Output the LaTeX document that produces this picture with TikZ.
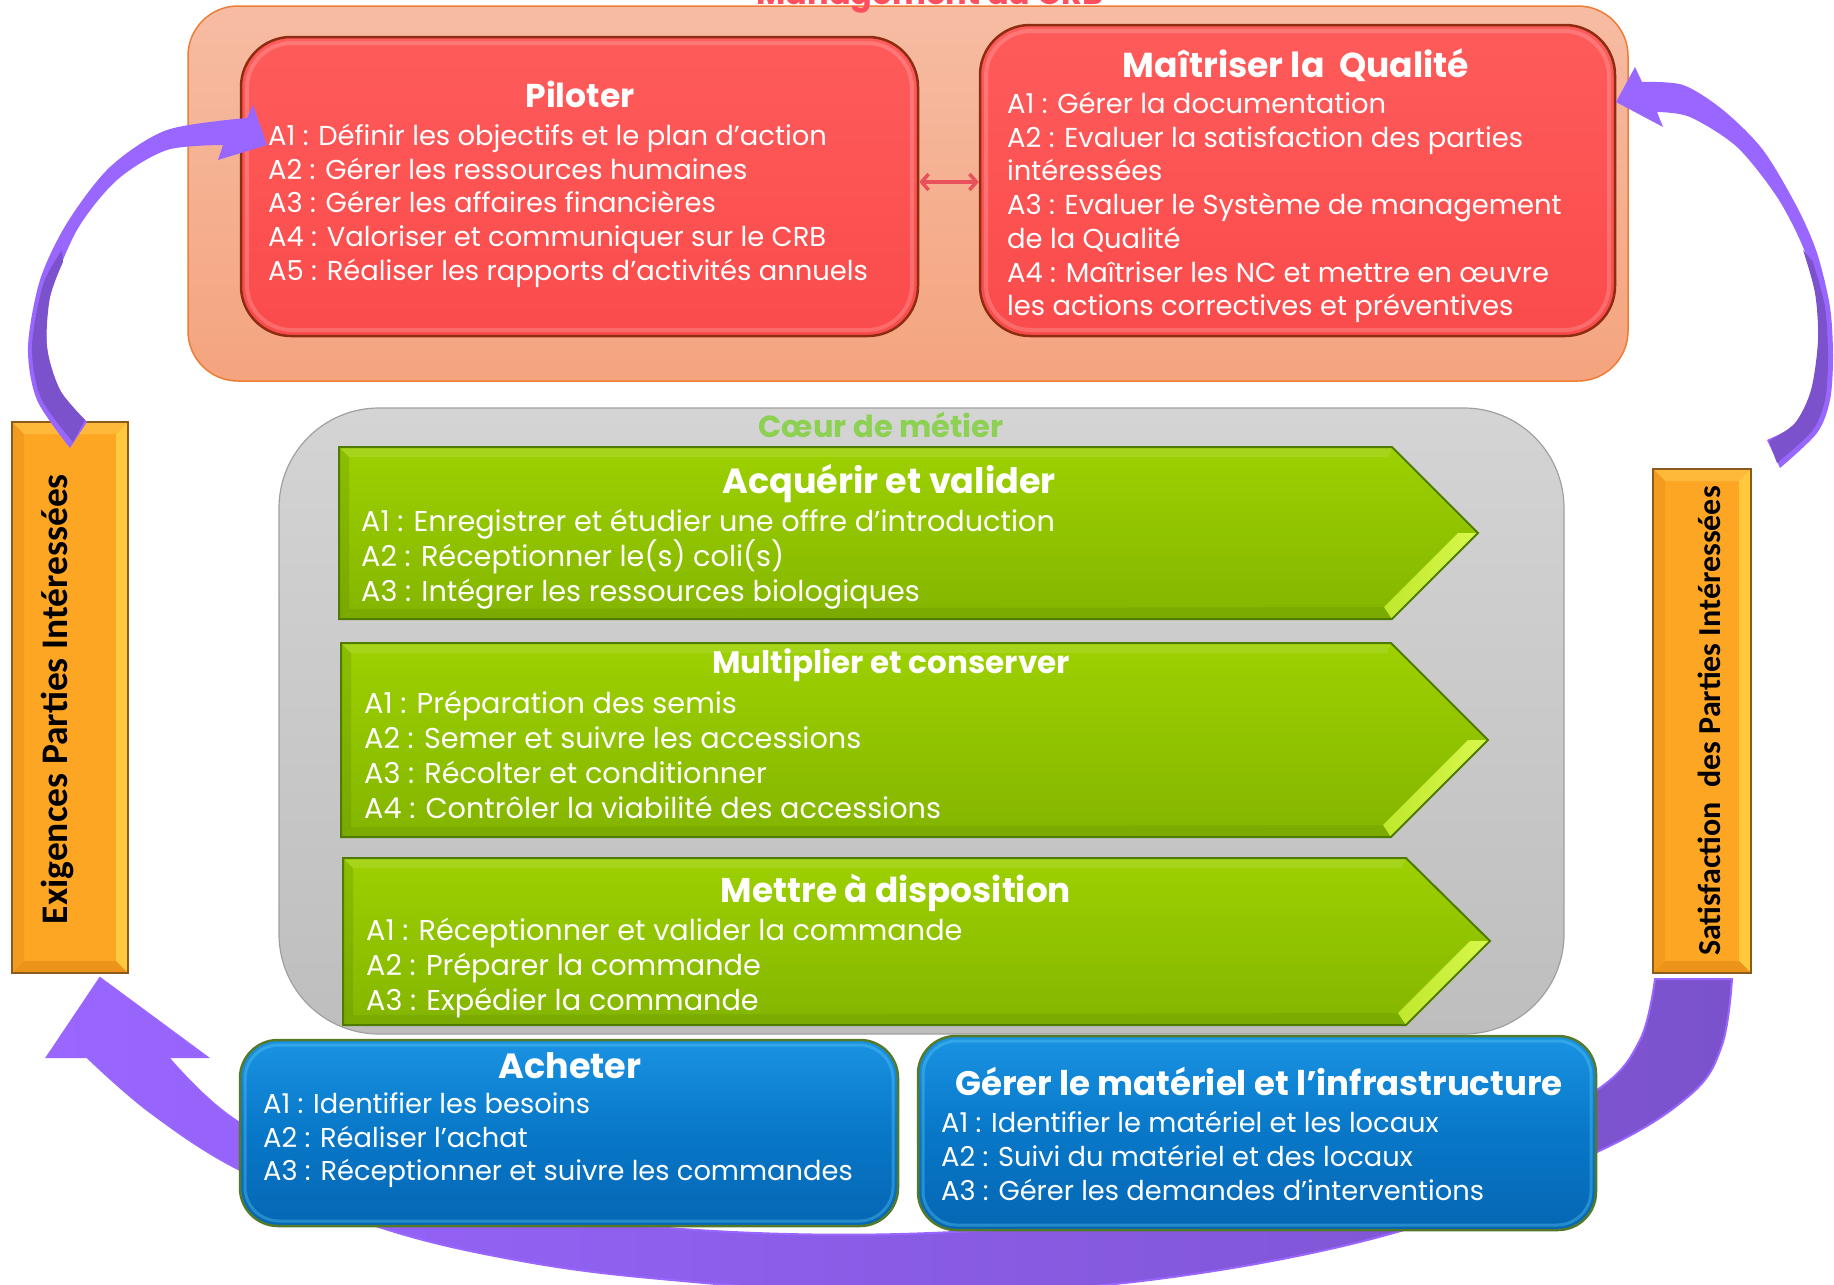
\documentclass[tikz,border=0pt]{standalone}
\usepackage{fontspec}
\setmainfont{Poppins}
\newfontfamily\boxfont{Carlito}
\usetikzlibrary{arrows.meta}
\definecolor{peachT}{HTML}{F6BCA3}
\definecolor{peachB}{HTML}{F4A47E}
\definecolor{peachD}{HTML}{EE7D35}
\definecolor{redT}{HTML}{FF5B5B}
\definecolor{redB}{HTML}{FA4B4B}
\definecolor{redD}{HTML}{8E2C12}
\definecolor{grayT}{HTML}{D4D4D4}
\definecolor{grayB}{HTML}{BEBEBE}
\definecolor{grayD}{HTML}{A0A0A0}
\definecolor{greenT}{HTML}{9DD100}
\definecolor{greenB}{HTML}{84B500}
\definecolor{greenD}{HTML}{4F7C00}
\definecolor{greenH}{HTML}{E2FF5A}
\definecolor{blueT}{HTML}{1A93E2}
\definecolor{blueM}{HTML}{0877C8}
\definecolor{blueB}{HTML}{0567B4}
\definecolor{blueD}{HTML}{55792A}
\definecolor{orF}{HTML}{FDA624}
\definecolor{orL}{HTML}{FFB93A}
\definecolor{orY}{HTML}{FFC93D}
\definecolor{orDk}{HTML}{EC931A}
\definecolor{orD}{HTML}{8A5A1E}
\definecolor{purL}{HTML}{9966FF}
\definecolor{purD}{HTML}{7B52CC}
\definecolor{titleR}{HTML}{FF4F5E}
\definecolor{coeurG}{HTML}{8CD152}
\definecolor{dblR}{HTML}{E8505B}
\tikzset{
  redbox/.style={draw=redD, line width=2.5pt, rounded corners=50pt, top color=redT, bottom color=redB, inner sep=0pt},
  bluebox/.style={draw=blueD, line width=2.5pt, rounded corners=38pt, top color=blueT, bottom color=blueB, middle color=blueM, inner sep=0pt},
  redtxt/.style={text=white, anchor=west, inner sep=0pt, font=\fontsize{27.4}{30}\selectfont, text height=19pt, text depth=0pt},
  greentxt/.style={text=white, anchor=west, inner sep=0pt, font=\fontsize{28.7}{32}\selectfont, text height=20pt, text depth=0pt},
  bluetxt/.style={text=white, anchor=west, inner sep=0pt, font=\fontsize{27.3}{32}\selectfont, text height=19pt, text depth=0pt},
  ttl/.style={text=white, inner sep=0pt, font=\bfseries\fontsize{#1}{36}\selectfont, text height=0.7*#1 pt, text depth=0pt},
  ttl/.default=33,
  sidetxt/.style={text=black, inner sep=0pt, rotate=90, text height=24pt, text depth=0pt},
  purarrow/.style={fill=purL},
  purdark/.style={fill=purD}
}
\newcommand\garrow[6]{%
  \shade[top color=greenT, bottom color=greenB] (#1,#2) -- (#4,#2) -- (#5,#6) -- (#4,#3) -- (#1,#3) -- cycle;
  \fill[greenD, opacity=0.22] (#1,#2) -- (#1+10,#2+10) -- (#1+10,#3-10) -- (#1,#3) -- cycle;
  \fill[white, opacity=0.10] (#1,#2) -- (#4,#2) -- (#4-4,#2+10) -- (#1+10,#2+10) -- cycle;
  \fill[greenD, opacity=0.18] (#1,#3) -- (#4,#3) -- (#4-8,#3-12) -- (#1+10,#3-10) -- cycle;
  \shade[left color=greenH!50!greenT, right color=greenH!85!greenT] (#5,#6) -- (#4,#3) -- (#4-8,#3-12) -- (#5-20,#6) -- cycle;
  \draw[greenD, line width=2pt, line join=miter] (#1,#2) -- (#4,#2) -- (#5,#6) -- (#4,#3) -- (#1,#3) -- cycle;
}
\newcommand\obox[4]{%
  \fill[orF] (#1,#2) rectangle (#3,#4);
  \fill[orL] (#1,#2) -- (#3,#2) -- (#3-12,#2+12) -- (#1+12,#2+12) -- cycle;
  \fill[orDk!60!orF] (#1,#2) -- (#1+12,#2+12) -- (#1+12,#4-12) -- (#1,#4) -- cycle;
  \fill[orY] (#3,#2) -- (#3,#4) -- (#3-12,#4-12) -- (#3-12,#2+12) -- cycle;
  \fill[orDk] (#1,#4) -- (#3,#4) -- (#3-12,#4-12) -- (#1+12,#4-12) -- cycle;
  \draw[orD, line width=2pt] (#1,#2) rectangle (#3,#4);
}
\begin{document}
\begin{tikzpicture}[x=1pt,y=-1pt]
\useasboundingbox (0,0) rectangle (1834,1285);

% management frame
\node[draw=peachD, line width=1.5pt, rounded corners=50pt, top color=peachT, bottom color=peachB, minimum width=1440pt, minimum height=375pt, inner sep=0pt] (mgmt) at (908,193.5) {};
\node[font=\bfseries\fontsize{32}{36}\selectfont, text=titleR, anchor=base, inner sep=0pt] (mtitle) at (930,4) {Management du CRB};

% red boxes
\node[redbox, minimum width=677pt, minimum height=299pt] (pil) at (579.5,186.5) {};
\node[redbox, minimum width=635pt, minimum height=311pt] (mai) at (1297.5,180.5) {};
\draw[white, opacity=0.18, line width=4pt, rounded corners=45pt] (247,43) rectangle (912,330);
\draw[white, opacity=0.18, line width=4pt, rounded corners=45pt] (986,31) rectangle (1609,330);
\draw[dblR, line width=3.5pt, {Straight Barb[length=7pt,width=16pt]}-{Straight Barb[length=7pt,width=16pt]}] ([yshift=4.5pt]pil.east) -- ([yshift=4.5pt]pil.east -| mai.west);

\node[ttl=33] (piltitle) at (580,96) {Piloter};
\foreach \t [count=\i] in {A1 : Définir les objectifs et le plan d’action, A2 : Gérer les ressources humaines, A3 : Gérer les affaires financières, A4 : Valoriser et communiquer sur le CRB, A5 : Réaliser les rapports d’activités annuels}
  \node[redtxt] (pil-\i) at (268,{136+33.7*(\i-1)}) {\t};

\node[ttl=34.6] (maititle) at (1296,65) {Maîtriser la~ Qualité};
\foreach \t [count=\i] in {A1 : Gérer la documentation, A2 : Evaluer la satisfaction des parties, intéressées, A3 : Evaluer le Système de management, de la Qualité, A4 : Maîtriser les NC et mettre en œuvre, les actions correctives et préventives}
  \node[redtxt] (mai-\i) at (1007,{104+33.7*(\i-1)}) {\t};

% core
\node[draw=grayD, line width=1.2pt, rounded corners=100pt, top color=grayT, bottom color=grayB, minimum width=1285pt, minimum height=626pt, inner sep=0pt] (core) at (921.5,721) {};
\node[font=\bfseries\fontsize{30.5}{34}\selectfont, text=coeurG, text height=21pt, text depth=0pt, inner sep=0pt] (coeur) at (881,427) {Cœur de métier};

\garrow{339}{447}{619}{1392}{1478}{533}
\garrow{341}{643}{837}{1391}{1488}{740}
\garrow{343}{858}{1025}{1406}{1490}{941}

\node[ttl=35] (acqtitle) at (889,481) {Acquérir et valider};
\foreach \t [count=\i] in {A1 : Enregistrer et étudier une offre d’introduction, A2 : Réceptionner le(s) coli(s), A3 : Intégrer les ressources biologiques}
  \node[greentxt] (acq-\i) at (361,{521+35.3*(\i-1)}) {\t};

\node[ttl=31] (multitle) at (891,663) {Multiplier et conserver};
\foreach \t [count=\i] in {A1 : Préparation des semis, A2 : Semer et suivre les accessions, A3 : Récolter et conditionner, A4 : Contrôler la viabilité des accessions}
  \node[greentxt] (mul-\i) at (364,{703+35.2*(\i-1)}) {\t};

\node[ttl=34.3] (mettitle) at (896,890) {Mettre à disposition};
\foreach \t [count=\i] in {A1 : Réceptionner et valider la commande, A2 : Préparer la commande, A3 : Expédier la commande}
  \node[greentxt] (met-\i) at (366,{930+35.2*(\i-1)}) {\t};

% bottom purple arrow
\path[left color=purL, middle color=purL, right color=purD, draw=purL, line width=2pt]
  (1655,979) -- (1732,979)
  -- plot[smooth, tension=0.6] coordinates {(1732,979) (1722,1045) (1690,1095) (1597,1152) (1397,1232) (1150,1280) (900,1294) (650,1278) (500,1257) (373,1225) (240,1170) (150,1112) (87,1057)}
  -- (47,1057) -- (100,978) -- (207,1057) -- (168,1057)
  -- plot[smooth, tension=0.6] coordinates {(168,1057) (240,1123) (373,1180) (600,1222) (900,1234) (1250,1205) (1480,1150) (1597,1090) (1640,1040) (1655,979)}
  -- cycle;

% blue boxes
\node[bluebox, minimum width=658pt, minimum height=186pt] (ach) at (569,1133) {};
\node[bluebox, minimum width=678pt, minimum height=194pt] (ger) at (1257,1133) {};
\draw[cyan!60!white, opacity=0.35, line width=3pt, rounded corners=34pt] (245,1045) rectangle (893,1221);
\draw[cyan!60!white, opacity=0.35, line width=3pt, rounded corners=34pt] (923,1041) rectangle (1591,1225);

\node[ttl=35] (achtitle) at (570,1066) {Acheter};
\foreach \t [count=\i] in {A1 : Identifier les besoins, A2 : Réaliser l’achat, A3 : Réceptionner et suivre les commandes}
  \node[bluetxt] (ach-\i) at (263,{1104+33.5*(\i-1)}) {\t};

\node[ttl=34] (gertitle) at (1259,1084) {Gérer le matériel et l'infrastructure};
\foreach \t [count=\i] in {A1 : Identifier le matériel et les locaux, A2 : Suivi du matériel et des locaux, A3 : Gérer les demandes d’interventions}
  \node[bluetxt] (ger-\i) at (941,{1123+34*(\i-1)}) {\t};

% orange side boxes
\obox{12}{422}{128}{973}
\obox{1653}{469}{1751}{973}
\node[sidetxt, font=\boxfont\bfseries\fontsize{37.5}{40}\selectfont] (exig) at (55,699) {Exigences Parties Intéressées};
\node[sidetxt, font=\boxfont\bfseries\fontsize{32}{36}\selectfont] (satis) at (1708,721) {Satisfaction~ des Parties Intéressées};

% left purple arrow
\path[purarrow] plot[smooth] coordinates {(70,448) (37,400) (28,347) (40,280) (67,223) (110,167) (167,130) (247,118)}
  -- (253,105) -- (267,145) -- (218,160)
  -- plot[smooth] coordinates {(223,145) (167,150) (117,180) (77,230) (50,297) (47,347) (60,390) (87,422)} -- cycle;
\path[purdark] plot[smooth] coordinates {(73,442) (41,398) (32,347) (43,285) (62,250)}
  -- plot[smooth] coordinates {(63,262) (50,297) (47,347) (60,390) (85,420)} -- cycle;

% right purple arrow
\path[purarrow] plot[smooth] coordinates {(1780,468) (1817,433) (1830,400) (1833,357) (1830,307) (1817,253) (1797,207) (1763,150) (1723,110) (1683,85) (1642,82)}
  -- (1635,67) -- (1616,102) -- (1663,127)
  -- plot[smooth] coordinates {(1657,112) (1690,117) (1737,147) (1777,197) (1803,247) (1817,293) (1820,340) (1813,390) (1797,423) (1767,440)} -- cycle;
\path[purdark] plot[smooth] coordinates {(1803,250) (1815,293) (1818,340) (1811,390) (1795,423) (1769,441)}
  -- plot[smooth] coordinates {(1777,463) (1812,431) (1825,400) (1828,357) (1825,307) (1813,262)} -- cycle;
\end{tikzpicture}
\end{document}
